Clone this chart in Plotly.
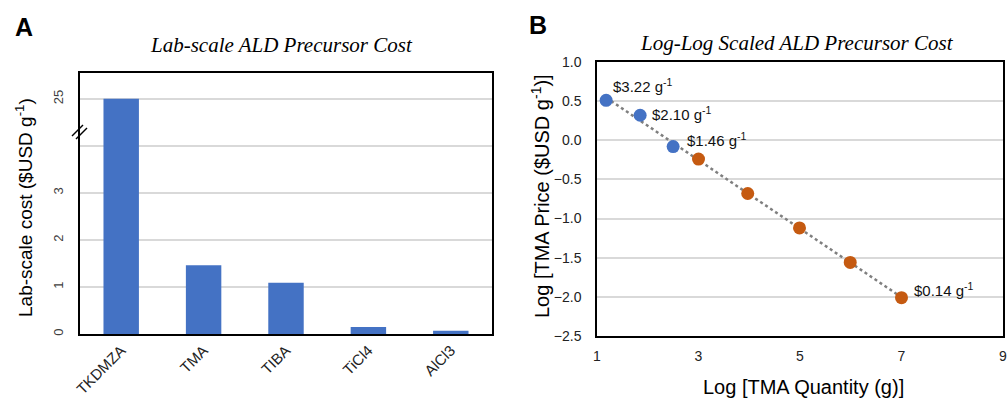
import numpy as np
import plotly.graph_objects as go

# ---------------- data ----------------
precursors = ["TKDMZA", "TMA", "TIBA", "TiCl4", "AlCl3"]
lab_cost = [25, 1.46, 1.09, 0.15, 0.07]
a_tick_values = [0, 1, 2, 3, 25]

log_qty_lab = [1.18, 1.85, 2.50]
log_price_lab = [0.51, 0.32, -0.08]
log_qty_bulk = [3.0, 3.97, 4.99, 5.99, 7.0]
log_price_bulk = [-0.24, -0.68, -1.12, -1.56, -2.01]
price_labels = ["$3.22 g<sup>-1</sup>", "$2.10 g<sup>-1</sup>", "$1.46 g<sup>-1</sup>", "$0.14 g<sup>-1</sup>"]

# broken axis mapping for panel A (values above 4 are compressed)
BREAK_AT = 4
BREAK_GAP = 20


def disp(v):
    return v if v <= BREAK_AT else v - BREAK_GAP


BLUE = "#4472C4"
ORANGE = "#C55A11"
FONT = "Liberation Sans, Arial, sans-serif"
SERIF = "Liberation Serif, Times New Roman, serif"

fig = go.Figure()

# Panel A bars
fig.add_trace(go.Bar(
    x=precursors, y=[disp(v) for v in lab_cost],
    marker=dict(color=BLUE, line=dict(width=0)), width=0.43,
    xaxis="x", yaxis="y", showlegend=False,
))

# Panel B trendline
all_x = np.array(log_qty_lab + log_qty_bulk)
all_y = np.array(log_price_lab + log_price_bulk)
slope, intercept = np.polyfit(all_x, all_y, 1)
tx = np.array([all_x.min(), all_x.max()])
fig.add_trace(go.Scatter(
    x=tx, y=slope * tx + intercept, mode="lines",
    line=dict(color="#7F7F7F", width=2.5, dash="dot"),
    xaxis="x2", yaxis="y2", showlegend=False,
))
fig.add_trace(go.Scatter(
    x=log_qty_lab, y=log_price_lab, mode="markers",
    marker=dict(color=BLUE, size=13), xaxis="x2", yaxis="y2", showlegend=False,
))
fig.add_trace(go.Scatter(
    x=log_qty_bulk, y=log_price_bulk, mode="markers",
    marker=dict(color=ORANGE, size=13), xaxis="x2", yaxis="y2", showlegend=False,
))

tickvals_a = [disp(v) for v in a_tick_values[:4]] + [BREAK_AT, disp(a_tick_values[4])]
ticktext_a = [str(v) for v in a_tick_values[:4]] + ["", str(a_tick_values[4])]

fig.update_layout(
    width=1008, height=400,
    margin=dict(l=0, r=0, t=0, b=0, autoexpand=False),
    paper_bgcolor="white", plot_bgcolor="white",
    font=dict(family=FONT, color="#000000"),
    xaxis=dict(
        domain=[80 / 1008, 492 / 1008], anchor="y", automargin=False,
        showline=True, mirror=True, linecolor="black", linewidth=1.5,
        tickangle=-45, tickfont=dict(size=15, color="#222"), ticks="",
        showgrid=False,
    ),
    yaxis=dict(
        domain=[1 - 334 / 400, 1 - 73 / 400], anchor="x", automargin=False,
        range=[0, 5.55],
        tickvals=tickvals_a, ticktext=ticktext_a, tickangle=-90,
        tickfont=dict(size=13, color="#404040"), ticks="",
        ticklabelstandoff=10,
        showline=True, mirror=True, linecolor="black", linewidth=1.5,
        showgrid=True, gridcolor="#D9D9D9", gridwidth=1.5, zeroline=False,
    ),
    xaxis2=dict(
        domain=[597 / 1008, 1003 / 1008], anchor="y2", automargin=False,
        range=[1, 9], tickvals=[1, 3, 5, 7, 9],
        tickfont=dict(size=14, color="#222"), ticks="", ticklabelstandoff=6,
        showline=True, mirror=True, linecolor="black", linewidth=1.5,
        showgrid=False, zeroline=False,
    ),
    yaxis2=dict(
        domain=[1 - 336 / 400, 1 - 62 / 400], anchor="x2", automargin=False,
        range=[-2.5, 1.0], dtick=0.5, tickformat=".1f",
        tickfont=dict(size=14, color="#222"), ticks="", ticklabelstandoff=11,
        showline=True, mirror=True, linecolor="black", linewidth=1.5,
        showgrid=True, gridcolor="#D9D9D9", gridwidth=1.5, zeroline=False,
    ),
)

ann = []
# panel letters
ann.append(dict(text="<b>A</b>", x=13 / 1008, y=1 - 27 / 400, xref="paper", yref="paper",
                xanchor="left", yanchor="middle", showarrow=False, font=dict(size=25, family=FONT)))
ann.append(dict(text="<b>B</b>", x=527 / 1008, y=1 - 25 / 400, xref="paper", yref="paper",
                xanchor="left", yanchor="middle", showarrow=False, font=dict(size=25, family=FONT)))
# titles
ann.append(dict(text="<i>Lab-scale ALD Precursor Cost</i>", x=281 / 1008, y=1 - 45 / 400,
                xref="paper", yref="paper", xanchor="center", yanchor="middle", showarrow=False,
                font=dict(size=21, family=SERIF)))
ann.append(dict(text="<i>Log-Log Scaled ALD Precursor Cost</i>", x=797 / 1008, y=1 - 43 / 400,
                xref="paper", yref="paper", xanchor="center", yanchor="middle", showarrow=False,
                font=dict(size=21, family=SERIF)))
# axis titles
ann.append(dict(text="Lab-scale cost ($USD g<sup>-1</sup>)", x=24 / 1008, y=1 - 208 / 400,
                xref="paper", yref="paper", xanchor="center", yanchor="middle",
                textangle=-90, showarrow=False, font=dict(size=19, family=FONT)))
ann.append(dict(text="Log [TMA Price ($USD g<sup>-1</sup>)]", x=540 / 1008, y=1 - 196 / 400,
                xref="paper", yref="paper", xanchor="center", yanchor="middle",
                textangle=-90, showarrow=False, font=dict(size=20, family=FONT)))
ann.append(dict(text="Log [TMA Quantity (g)]", x=803 / 1008, y=1 - 387 / 400,
                xref="paper", yref="paper", xanchor="center", yanchor="middle",
                showarrow=False, font=dict(size=20, family=FONT)))
# price labels
label_pts = list(zip(log_qty_lab, log_price_lab)) + [(log_qty_bulk[-1], log_price_bulk[-1])]
shifts = [(5, 15), (10, 2), (12, 7), (10, 8)]
for (px, py), txt, (dx, dy) in zip(label_pts, price_labels, shifts):
    ann.append(dict(text=txt, x=px, y=py, xref="x2", yref="y2", xanchor="left", yanchor="middle",
                    xshift=dx, yshift=dy, showarrow=False, font=dict(size=15, family=FONT, color="#111")))
fig.update_layout(annotations=ann)

# axis-break marks ("//") on panel A's left axis
for x0, y0, x1, y1 in [(72, 136, 83, 125), (76, 139, 87, 128)]:
    fig.add_shape(type="line", xref="paper", yref="paper",
                  x0=x0 / 1008, x1=x1 / 1008, y0=1 - y0 / 400, y1=1 - y1 / 400,
                  line=dict(color="black", width=1.5))

fig.write_html("out.html", config={"displayModeBar": False},
               post_script="document.body.style.margin='0';")
